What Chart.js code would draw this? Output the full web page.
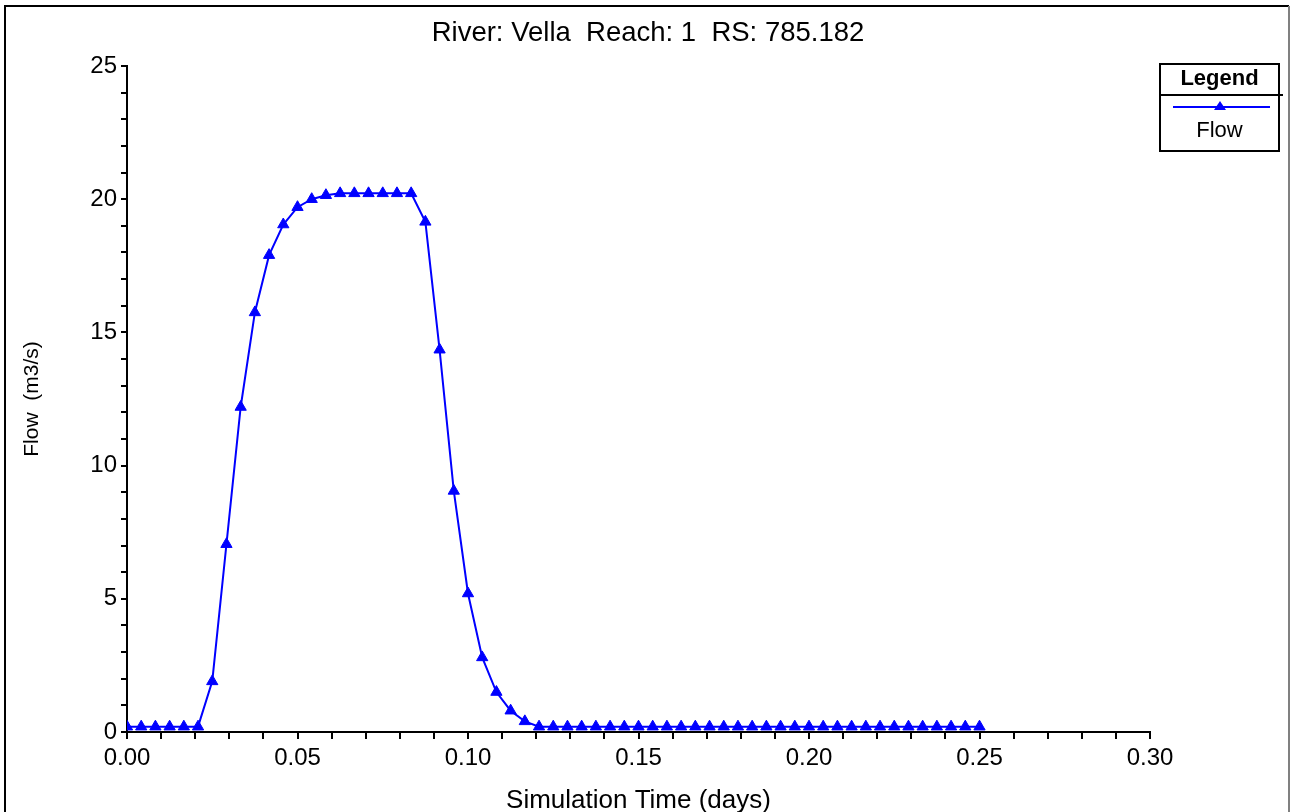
<!DOCTYPE html>
<html>
<head>
<meta charset="utf-8">
<script src="https://cdn.jsdelivr.net/npm/chart.js@4"></script>
<style>
  html, body { margin: 0; padding: 0; background: #fff; }
  #wrap { position: relative; width: 1290px; height: 812px; }
</style>
</head>
<body>
<div id="wrap"><canvas id="flowChart" width="1290" height="812"></canvas></div>
<script>
// time step of 6 minutes (1/240 day), 0 .. 0.25 days
const stepIndex = [
  0, 1, 2, 3, 4, 5, 6, 7, 8, 9, 10, 11, 12, 13, 14, 15, 16, 17, 18, 19, 20,
  21, 22, 23, 24, 25, 26, 27, 28, 29, 30, 31, 32, 33, 34, 35, 36, 37, 38, 39, 40,
  41, 42, 43, 44, 45, 46, 47, 48, 49, 50, 51, 52, 53, 54, 55, 56, 57, 58, 59, 60
];
const flowValues = [
  0.2, 0.2, 0.2, 0.2, 0.2, 0.2, 1.9, 7.05, 12.2, 15.75, 17.9, 19.05, 19.7, 20.0, 20.15,
  20.22, 20.22, 20.22, 20.22, 20.22, 20.22, 19.15, 14.35, 9.05, 5.2, 2.8, 1.5, 0.8, 0.4,
  0.2, 0.2, 0.2, 0.2, 0.2, 0.2, 0.2, 0.2, 0.2, 0.2, 0.2, 0.2, 0.2, 0.2, 0.2, 0.2,
  0.2, 0.2, 0.2, 0.2, 0.2, 0.2, 0.2, 0.2, 0.2, 0.2, 0.2, 0.2, 0.2, 0.2, 0.2, 0.2
];
const timeDays = stepIndex.map(i => i / 240);

const titleText = 'River: Vella  Reach: 1  RS: 785.182';
const xTitle = 'Simulation Time (days)';
const yTitle = 'Flow  (m3/s)';
const seriesName = 'Flow';

const FONT = '"Liberation Sans", Arial, sans-serif';
const BLUE = '#0000ff';

// frame, title and boxed legend drawn on top of the chart
const framePlugin = {
  id: 'frame',
  afterDraw(chart) {
    const ctx = chart.ctx;
    ctx.save();
    ctx.strokeStyle = '#000';
    ctx.lineWidth = 2;
    ctx.beginPath();
    ctx.moveTo(5, 812);
    ctx.lineTo(5, 6);
    ctx.lineTo(1289, 6);
    ctx.stroke();
    ctx.strokeStyle = '#808080';
    ctx.beginPath();
    ctx.moveTo(1289, 6);
    ctx.lineTo(1289, 812);
    ctx.stroke();

    ctx.fillStyle = '#000';
    ctx.textAlign = 'center';
    ctx.textBaseline = 'middle';
    ctx.font = '27.5px ' + FONT;
    ctx.fillText(titleText, 648, 33);

    // legend box
    const lx = 1160, ly = 64, lw = 119, lh = 87;
    ctx.fillStyle = '#fff';
    ctx.fillRect(lx, ly, lw, lh);
    ctx.strokeStyle = '#000';
    ctx.lineWidth = 2;
    ctx.strokeRect(lx, ly, lw, lh);
    ctx.beginPath();
    ctx.moveTo(lx, 95);
    ctx.lineTo(lx + lw + 4, 95);
    ctx.stroke();
    ctx.fillStyle = '#000';
    ctx.font = 'bold 22px ' + FONT;
    ctx.fillText('Legend', lx + lw / 2, 79);
    ctx.strokeStyle = BLUE;
    ctx.lineWidth = 2;
    ctx.beginPath();
    ctx.moveTo(1173, 107);
    ctx.lineTo(1270, 107);
    ctx.stroke();
    ctx.fillStyle = BLUE;
    ctx.beginPath();
    ctx.moveTo(1220, 101);
    ctx.lineTo(1226, 110);
    ctx.lineTo(1214, 110);
    ctx.closePath();
    ctx.fill();
    ctx.fillStyle = '#000';
    ctx.font = '22px ' + FONT;
    ctx.fillText(seriesName, lx + lw / 2, 131);
    ctx.restore();
  }
};

const ctx = document.getElementById('flowChart').getContext('2d');
new Chart(ctx, {
  type: 'line',
  data: {
    labels: timeDays,
    datasets: [{
      label: seriesName,
      data: timeDays.map((t, i) => ({ x: t, y: flowValues[i] })),
      borderColor: BLUE,
      backgroundColor: BLUE,
      borderWidth: 2,
      pointStyle: 'triangle',
      pointRadius: 6.5,
      pointBorderWidth: 1,
      fill: false,
      tension: 0
    }]
  },
  options: {
    responsive: false,
    animation: false,
    layout: { padding: { left: 0, right: 140, top: 66, bottom: 0 } },
    plugins: {
      legend: { display: false },
      tooltip: { enabled: false },
      title: { display: false }
    },
    scales: {
      x: {
        type: 'linear',
        min: 0,
        max: 0.3,
        afterFit(scale) { scale.height = 80; },
        border: { display: true, color: '#000', width: 2 },
        grid: { drawOnChartArea: false, drawTicks: true, tickLength: 7, color: '#000', lineWidth: 2 },
        ticks: {
          stepSize: 0.01,
          autoSkip: false,
          maxRotation: 0,
          padding: 5,
          color: '#000',
          font: { family: FONT, size: 24 },
          callback: v => (Math.round(v * 100) % 5 === 0 ? v.toFixed(2) : '')
        },
        title: {
          display: true,
          text: xTitle,
          color: '#000',
          font: { family: FONT, size: 26, lineHeight: 0.85 },
          padding: { top: 0, bottom: 0 }
        }
      },
      y: {
        min: 0,
        max: 25,
        afterFit(scale) { scale.width = 127; },
        border: { display: true, color: '#000', width: 2 },
        grid: { drawOnChartArea: false, drawTicks: true, tickLength: 6, color: '#000', lineWidth: 2 },
        ticks: {
          stepSize: 1,
          autoSkip: false,
          padding: 4,
          color: '#000',
          font: { family: FONT, size: 24 },
          callback: v => (v % 5 === 0 ? String(v) : '')
        },
        title: {
          display: true,
          text: yTitle,
          color: '#000',
          font: { family: FONT, size: 21, lineHeight: 1.0 },
          padding: { top: 22, bottom: 0 }
        }
      }
    }
  },
  plugins: [framePlugin]
});
</script>
</body>
</html>
